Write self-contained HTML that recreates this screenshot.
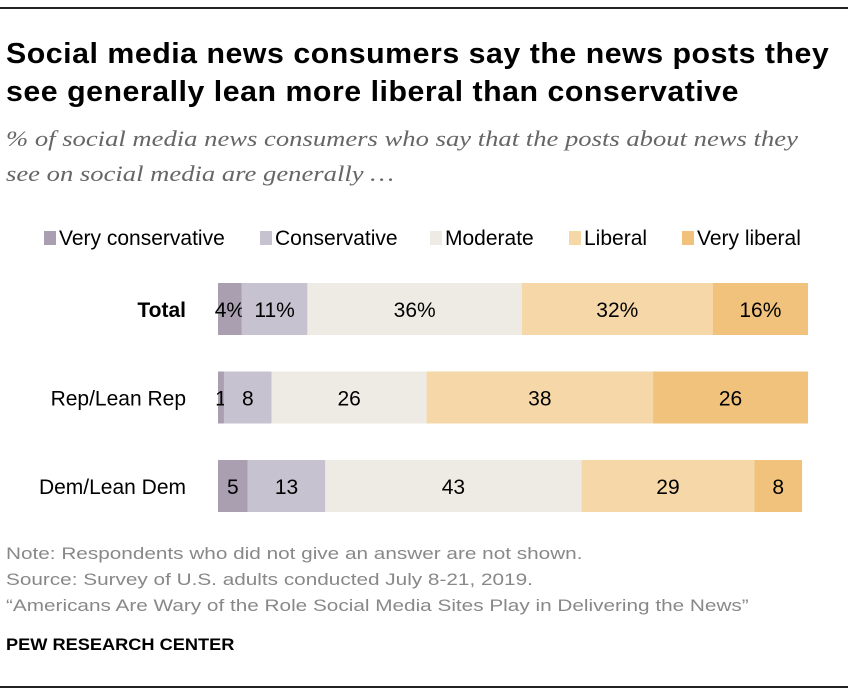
<!DOCTYPE html>
<html><head><meta charset="utf-8"><style>
body{margin:0;width:848px;height:696px;background:#fff;position:relative;font-family:"Liberation Sans",sans-serif;overflow:hidden}
.a{position:absolute;white-space:nowrap}
</style></head><body>
<div class="a" style="left:0;top:7px;width:848px;height:2px;background:#222"></div>
<div class="a" style="left:6px;top:35px;font-size:29px;font-weight:bold;line-height:38px;color:#000;letter-spacing:0.5px;transform:scaleX(1.045);transform-origin:left top">Social media news consumers say the news posts they<br>see generally lean more liberal than conservative</div>
<div class="a" style="left:6px;top:121px;font-family:'Liberation Serif',serif;font-style:italic;font-size:22px;line-height:35px;color:#666;transform:scaleX(1.21);transform-origin:left top">% of social media news consumers who say that the posts about news they<br>see on social media are generally …</div>
<svg class="a" id="chart" style="left:0;top:0" width="848" height="696"></svg>
<div class="a" style="left:6px;top:541px;font-size:17px;line-height:26px;color:#888;transform:scaleX(1.22);transform-origin:left top">Note: Respondents who did not give an answer are not shown.<br>Source: Survey of U.S. adults conducted July 8-21, 2019.<br>“Americans Are Wary of the Role Social Media Sites Play in Delivering the News”</div>
<div class="a" style="left:6px;top:635px;font-size:17px;font-weight:bold;color:#000;transform:scaleX(1.07);transform-origin:left top">PEW RESEARCH CENTER</div>
<div class="a" style="left:0;top:686px;width:848px;height:2px;background:#222"></div>
<script>
const categories=["Total","Rep/Lean Rep","Dem/Lean Dem"];
const seriesNames=["Very conservative","Conservative","Moderate","Liberal","Very liberal"];
const veryConservative=[4,1,5];
const conservative=[11,8,13];
const moderate=[36,26,43];
const liberal=[32,38,29];
const veryLiberal=[16,26,8];
const colors=["#a99fb0","#c6c2cf","#edebe4","#f6d8a8","#f1c27c"];
const NS="http://www.w3.org/2000/svg";
const svg=document.getElementById('chart');
const series=[veryConservative,conservative,moderate,liberal,veryLiberal];
const x0=218,pxPer=5.96;
const xs=v=>x0+v*pxPer;
const rowY=i=>283+i*88.5,barH=52;
function mk(t,a){const e=document.createElementNS(NS,t);for(const k in a)e.setAttribute(k,a[k]);svg.appendChild(e);return e;}
const legX=[44,260,430,569,682];
seriesNames.forEach((n,j)=>{
  const r=mk('rect',{x:legX[j],y:231,width:12,height:14,fill:colors[j]});
  
  
  const t=mk('text',{x:legX[j]+15,y:245,'font-size':21,fill:'#000','font-family':'Liberation Sans, sans-serif'});
  t.textContent=n;
  
  
});
categories.forEach((c,i)=>{
  const y=rowY(i);
  const lab=mk('text',{x:186,y:y+barH/2+8,'text-anchor':'end','font-size':21,'font-weight':i===0?'bold':'normal','font-family':'Liberation Sans, sans-serif'});
  lab.textContent=c;
  
  
  let cum=0;
  series.forEach((s,j)=>{
    const v=s[i];
    const r=mk('rect',{x:xs(cum),y:y,width:xs(cum+v)-xs(cum),height:barH,fill:colors[j]});
    
    
    const t=mk('text',{x:xs(cum+v/2),y:y+barH/2+8,'text-anchor':'middle','font-size':21,'font-family':'Liberation Sans, sans-serif'});
    t.textContent=v+(i===0?'%':'');
    
    
    cum+=v;
  });
});
</script>
</body></html>
